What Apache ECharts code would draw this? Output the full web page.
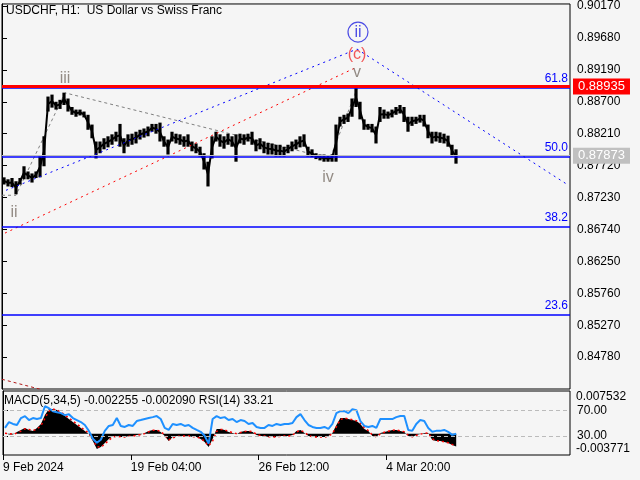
<!DOCTYPE html>
<html><head><meta charset="utf-8">
<script src="https://cdn.jsdelivr.net/npm/echarts@6/dist/echarts.min.js"></script>
<style>html,body{margin:0;padding:0;background:#f5f5f5}#c{width:640px;height:480px}</style>
</head><body><div id="c"></div>
<script>
// ---------- DATA ----------
const chartTitle = 'USDCHF, H1:  US Dollar vs Swiss Franc';
const indicatorTitle = 'MACD(5,34,5) -0.002255 -0.002090 RSI(14) 33.21';
const priceTicks = [0.84780,0.85270,0.85760,0.86250,0.86740,0.87230,0.87720,0.88210,0.88700,0.89190,0.89680,0.90170];
const timeTickBars = [0,128,256,384];
const timeTickLabels = ['9 Feb 2024','19 Feb 04:00','26 Feb 12:00','4 Mar 20:00'];
const sampleStart = 2, sampleStep = 4;   // bar index of first sample, bars per sample
const priceHigh = [
 0.8754,0.8751,0.8753,0.8748,0.8753,0.8771,0.8763,0.8760,0.8763,0.8786,
 0.8817,0.8878,0.8881,0.8870,0.8873,0.8884,0.8875,0.8862,0.8858,0.8858,
 0.8855,0.8850,0.8835,0.8809,0.8809,0.8814,0.8817,0.8820,0.8824,0.8836,
 0.8814,0.8820,0.8821,0.8824,0.8827,0.8829,0.8832,0.8836,0.8836,0.8838,
 0.8817,0.8812,0.8824,0.8821,0.8820,0.8817,0.8820,0.8809,0.8806,0.8801,
 0.8791,0.8778,0.8817,0.8824,0.8820,0.8817,0.8821,0.8817,0.8820,0.8821,
 0.8820,0.8821,0.8824,0.8812,0.8814,0.8809,0.8807,0.8806,0.8804,0.8804,
 0.8801,0.8804,0.8809,0.8812,0.8817,0.8820,0.8801,0.8797,0.8791,0.8789,
 0.8789,0.8788,0.8789,0.8835,0.8847,0.8850,0.8852,0.8875,0.8891,0.8870,
 0.8843,0.8836,0.8836,0.8832,0.8862,0.8858,0.8855,0.8858,0.8862,0.8865,
 0.8862,0.8847,0.8847,0.8847,0.8850,0.8850,0.8835,0.8824,0.8824,0.8823,
 0.8821,0.8818,0.8804,0.8797];
const priceLow = [
 0.8743,0.8740,0.8739,0.8728,0.8743,0.8751,0.8751,0.8746,0.8753,0.8754,
 0.8771,0.8855,0.8861,0.8858,0.8859,0.8865,0.8855,0.8850,0.8847,0.8849,
 0.8846,0.8827,0.8814,0.8783,0.8791,0.8797,0.8800,0.8804,0.8809,0.8801,
 0.8791,0.8801,0.8804,0.8806,0.8812,0.8815,0.8817,0.8824,0.8821,0.8809,
 0.8801,0.8789,0.8809,0.8806,0.8804,0.8801,0.8801,0.8794,0.8791,0.8786,
 0.8766,0.8740,0.8783,0.8809,0.8801,0.8798,0.8804,0.8801,0.8778,0.8806,
 0.8804,0.8809,0.8804,0.8794,0.8797,0.8791,0.8789,0.8789,0.8786,0.8786,
 0.8786,0.8791,0.8794,0.8797,0.8800,0.8801,0.8786,0.8785,0.8782,0.8780,
 0.8778,0.8778,0.8778,0.8778,0.8832,0.8836,0.8839,0.8847,0.8862,0.8843,
 0.8827,0.8827,0.8823,0.8806,0.8839,0.8844,0.8844,0.8846,0.8850,0.8852,
 0.8839,0.8824,0.8833,0.8836,0.8838,0.8832,0.8814,0.8806,0.8809,0.8807,
 0.8806,0.8801,0.8786,0.8775];
const rsiValues = [
 42.3,51.5,48.5,46.9,57.7,60.8,54.6,57.7,56.2,57.7,
 76.2,73.1,68.5,66.9,65.4,62.3,63.8,57.7,54.6,51.5,
 46.9,37.7,25.4,19.2,23.8,37.7,45.4,46.9,57.7,45.4,
 43.8,46.9,45.4,53.1,54.6,56.2,57.7,59.2,60.8,56.2,
 42.3,39.2,48.5,46.9,48.5,45.4,46.9,42.3,39.2,36.2,
 30.0,17.7,56.2,60.8,57.7,59.2,54.6,56.2,51.5,54.6,
 53.1,48.5,50.0,43.8,42.3,42.3,46.9,45.4,48.5,46.9,
 48.5,48.5,50.0,59.2,63.8,54.6,46.9,43.8,42.3,42.3,
 43.8,40.8,48.5,65.4,68.5,68.5,65.4,71.5,70.0,53.1,
 45.4,43.8,45.4,42.3,56.2,56.2,56.2,56.2,59.2,60.8,
 60.8,39.2,37.7,48.5,54.6,53.1,42.3,36.2,37.7,37.7,
 39.2,36.2,31.5,33.2];
const macdMain = [
 0.00011,-0.00015,-0.00015,0.00029,0.00064,0.00100,0.00064,0.00047,0.00100,0.00170,
 0.00329,0.00435,0.00435,0.00418,0.00365,0.00312,0.00259,0.00206,0.00153,0.00100,
 0.00047,-0.00006,-0.00130,-0.00271,-0.00236,-0.00165,-0.00095,-0.00042,-0.00042,-0.00059,
 -0.00059,-0.00042,-0.00042,-0.00024,-0.00015,0.00011,0.00047,0.00064,0.00064,0.00029,
 -0.00042,-0.00130,-0.00059,-0.00042,-0.00042,-0.00042,-0.00042,-0.00059,-0.00059,-0.00095,
 -0.00148,-0.00236,-0.00095,0.00082,0.00082,0.00064,0.00029,0.00011,-0.00006,0.00029,
 0.00047,0.00047,0.00029,-0.00024,-0.00042,-0.00042,-0.00059,-0.00059,-0.00059,-0.00042,
 -0.00042,-0.00042,-0.00024,0.00047,0.00064,0.00011,-0.00042,-0.00059,-0.00059,-0.00059,
 -0.00059,-0.00042,0.00011,0.00153,0.00276,0.00276,0.00259,0.00241,0.00223,0.00170,
 0.00082,0.00047,-0.00042,-0.00059,0.00011,0.00029,0.00047,0.00064,0.00064,0.00047,
 0.00029,-0.00042,-0.00059,-0.00024,-0.00006,0.00011,0.00011,-0.00112,-0.00130,-0.00130,
 -0.00148,-0.00165,-0.00200,-0.00226];
const macdSignal = [
 0.00005,0.00000,-0.00010,0.00010,0.00045,0.00085,0.00075,0.00055,0.00080,0.00140,
 0.00270,0.00400,0.00430,0.00420,0.00380,0.00330,0.00275,0.00220,0.00170,0.00115,
 0.00060,0.00010,-0.00100,-0.00230,-0.00240,-0.00185,-0.00115,-0.00060,-0.00045,-0.00055,
 -0.00058,-0.00047,-0.00043,-0.00030,-0.00018,0.00000,0.00035,0.00058,0.00063,0.00040,
 -0.00025,-0.00110,-0.00075,-0.00048,-0.00043,-0.00042,-0.00042,-0.00055,-0.00058,-0.00085,
 -0.00135,-0.00215,-0.00130,0.00040,0.00075,0.00068,0.00040,0.00018,0.00000,0.00020,
 0.00040,0.00046,0.00033,-0.00010,-0.00035,-0.00042,-0.00055,-0.00059,-0.00059,-0.00046,
 -0.00042,-0.00042,-0.00028,0.00030,0.00060,0.00025,-0.00030,-0.00055,-0.00059,-0.00059,
 -0.00059,-0.00046,0.00000,0.00120,0.00250,0.00275,0.00262,0.00245,0.00228,0.00180,
 0.00100,0.00055,-0.00025,-0.00055,-0.00005,0.00025,0.00043,0.00060,0.00064,0.00050,
 0.00033,-0.00030,-0.00055,-0.00030,-0.00010,0.00008,0.00011,-0.00090,-0.00125,-0.00130,
 -0.00145,-0.00160,-0.00190,-0.00209];
const fibLevels = ['61.8','50.0','38.2','23.6'];
const fibPrices = [0.88914,0.87855,0.86776,0.85432];
const resistancePrice = 0.88935;
const currentPrice = 0.87873;
const rsiLevels = [30,70];
const macdMin = -0.003771, macdMax = 0.007532;
const priceMin = 0.84291, priceMax = 0.90201;
const barMax = 568;
const blueUpLine = [[4,0.87341],[355,0.89509]];
const blueDownLine = [[355,0.89509],[565,0.87433]];
const redUpLine = [[3,0.86684],[353,0.89219]];
const darkRedLine = [[0,0.84440],[40,0.84280]];
const greyWaveLine = [[0,0.87265],[14,0.87265],[63,0.88837],[328,0.87830],[355,0.88898]];
const waveLabels = [
  {name:'iii', bar:63, price:0.89051},
  {name:'ii', bar:12, price:0.87005},
  {name:'iv', bar:326, price:0.87539},
  {name:'v', bar:355, price:0.89143}
];
const cLabel = {name:'(c)', bar:355, price:0.89418};
const circledLabel = {name:'ii', bar:356, price:0.89769};

// ---------- CHART ----------
const FONT = '"Liberation Sans", Arial, sans-serif';
const bars = priceHigh.map((_, i) => sampleStart + i * sampleStep);
const rangeData = bars.map((b, i) => [b, priceLow[i], priceHigh[i]]);
const midData = bars.map((b, i) => [b, (priceLow[i] + priceHigh[i]) / 2]);
const pair = arr => bars.map((b, i) => [b, arr[i]]);

const chart = echarts.init(document.getElementById('c'), null, {renderer: 'canvas'});
const txt = (c, s) => ({color: c, fontSize: s || 12, fontFamily: FONT});

const option = {
  animation: false,
  backgroundColor: '#f5f5f5',
  title: [
    {text: chartTitle, left: 6, top: 5, padding: 0, textStyle: Object.assign(txt('#000', 12), {fontWeight: 'normal'})},
    {text: indicatorTitle, left: 4, top: 395, padding: 0, textStyle: Object.assign(txt('#000', 12), {fontWeight: 'normal'})}
  ],
  grid: [
    {left: 2, top: 2, width: 568, height: 387, show: true, backgroundColor: '#f5f5f5', borderColor: '#000', borderWidth: 1},
    {left: 2, top: 391, width: 568, height: 64, show: true, backgroundColor: '#f5f5f5', borderColor: '#000', borderWidth: 1}
  ],
  xAxis: [
    {gridIndex: 0, type: 'value', min: 0, max: barMax, show: false},
    {gridIndex: 1, type: 'value', min: 0, max: barMax,
     axisLine: {show: false}, splitLine: {show: false},
     axisTick: {show: true, customValues: timeTickBars, length: 5, lineStyle: {color: '#000'}},
     axisLabel: Object.assign({customValues: timeTickBars, align: 'left', margin: 7,
       formatter: v => timeTickLabels[timeTickBars.indexOf(v)]}, txt('#000'))}
  ],
  yAxis: [
    {gridIndex: 0, type: 'value', position: 'right', min: priceMin, max: priceMax,
     axisLine: {show: true, lineStyle: {color: '#000'}}, splitLine: {show: false},
     axisTick: {show: true, customValues: priceTicks, length: 5, lineStyle: {color: '#000'}},
     axisLabel: Object.assign({customValues: priceTicks, margin: 7, formatter: v => v.toFixed(5)}, txt('#000'))},
    {gridIndex: 1, type: 'value', position: 'right', min: 0, max: 100,
     axisLine: {show: true, lineStyle: {color: '#000'}}, splitLine: {show: false},
     axisTick: {show: true, customValues: rsiLevels, length: 5, lineStyle: {color: '#000'}},
     axisLabel: Object.assign({customValues: rsiLevels, margin: 7, formatter: v => v.toFixed(2)}, txt('#000'))},
    {gridIndex: 1, type: 'value', position: 'right', offset: 0, min: macdMin, max: macdMax,
     axisLine: {show: false}, splitLine: {show: false}, axisTick: {show: false},
     axisLabel: Object.assign({customValues: [macdMin, macdMax], margin: 6,
       verticalAlignMinLabel: 'bottom', verticalAlignMaxLabel: 'top',
       formatter: v => v.toFixed(6)}, txt('#000'))}
  ],
  series: [
    {type: 'line', name: 'greyWave', xAxisIndex: 0, yAxisIndex: 0, data: greyWaveLine, symbol: 'none',
     lineStyle: {color: '#808080', width: 1, type: [3, 3]}, z: 2,
     markLine: {symbol: 'none', silent: true, animation: false, precision: 6,
       data: [
         ...fibPrices.map((p, i) => ({yAxis: p, lineStyle: {color: '#0000ff', width: 1.5, type: 'solid'},
             label: Object.assign({show: true, position: 'insideEndTop', distance: [2, 3], formatter: fibLevels[i]}, txt('#0000ff'))})),
         {yAxis: resistancePrice, lineStyle: {color: '#ff0000', width: 3, type: 'solid'},
          label: Object.assign({show: true, position: 'end', distance: 3, formatter: resistancePrice.toFixed(5),
             backgroundColor: '#ff0000', padding: [2, 5, 1, 5]}, txt('#ffffff', 13))},
         {yAxis: currentPrice, lineStyle: {color: '#c0c0c0', width: 1, type: 'solid'},
          label: Object.assign({show: true, position: 'end', distance: 3, formatter: currentPrice.toFixed(5),
             backgroundColor: '#c0c0c0', padding: [2, 5, 1, 5]}, txt('#ffffff', 13))}
       ]}},
    {type: 'custom', name: 'price', xAxisIndex: 0, yAxisIndex: 0, data: rangeData, z: 3, clip: true,
     renderItem: (params, api) => {
       const b = api.value(0);
       const lo = api.coord([b, api.value(1)]);
       const hi = api.coord([b, api.value(2)]);
       const w = api.size([sampleStep, 0])[0];
       return {type: 'rect', shape: {x: lo[0] - w * 0.4, y: hi[1], width: w * 0.8, height: Math.max(2, lo[1] - hi[1])},
               style: {fill: '#000'}};
     }},
    {type: 'line', name: 'priceMid', xAxisIndex: 0, yAxisIndex: 0, data: midData, symbol: 'none', z: 3,
     lineStyle: {color: '#000', width: 2}},
    {type: 'line', xAxisIndex: 0, yAxisIndex: 0, data: blueUpLine, symbol: 'none', z: 4,
     lineStyle: {color: '#0000ff', width: 1, type: [2, 4]}},
    {type: 'line', xAxisIndex: 0, yAxisIndex: 0, data: blueDownLine, symbol: 'none', z: 4,
     lineStyle: {color: '#0000ff', width: 1, type: [2, 4]}},
    {type: 'line', xAxisIndex: 0, yAxisIndex: 0, data: redUpLine, symbol: 'none', z: 4,
     lineStyle: {color: '#ff0000', width: 1, type: [2, 4]}},
    {type: 'line', xAxisIndex: 0, yAxisIndex: 0, data: darkRedLine, symbol: 'none', z: 4,
     lineStyle: {color: '#b01818', width: 1, type: [3, 3]}},
    {type: 'scatter', xAxisIndex: 0, yAxisIndex: 0, symbolSize: 1, z: 6,
     itemStyle: {color: 'rgba(0,0,0,0)'},
     data: waveLabels.map(w => ({name: w.name, value: [w.bar, w.price]})),
     label: Object.assign({show: true, position: 'inside', formatter: '{b}'}, txt('#7a7068', 16))},
    {type: 'scatter', xAxisIndex: 0, yAxisIndex: 0, symbolSize: 1, z: 6,
     itemStyle: {color: 'rgba(0,0,0,0)'},
     data: [{name: cLabel.name, value: [cLabel.bar, cLabel.price]}],
     label: Object.assign({show: true, position: 'inside', formatter: '{b}'}, txt('#f03030', 16))},
    {type: 'scatter', xAxisIndex: 0, yAxisIndex: 0, symbol: 'circle', symbolSize: 20, z: 6,
     itemStyle: {color: 'rgba(0,0,0,0)', borderColor: '#2020e0', borderWidth: 1.2},
     data: [{name: circledLabel.name, value: [circledLabel.bar, circledLabel.price]}],
     label: Object.assign({show: true, position: 'inside', formatter: '{b}'}, txt('#2020e0', 16))},
    // indicator window
    {type: 'line', name: 'MACD', xAxisIndex: 1, yAxisIndex: 2, data: pair(macdMain), symbol: 'none', z: 2,
     lineStyle: {width: 0}, areaStyle: {color: '#000', opacity: 1}},
    {type: 'line', name: 'Signal', xAxisIndex: 1, yAxisIndex: 2, data: pair(macdSignal), symbol: 'none', z: 3,
     lineStyle: {color: '#ff0000', width: 1.5, type: [2, 3]}},
    {type: 'line', name: 'RSI', xAxisIndex: 1, yAxisIndex: 1, data: pair(rsiValues), symbol: 'none', z: 4,
     lineStyle: {color: '#1e90ff', width: 2},
     markLine: {symbol: 'none', silent: true, label: {show: false}, precision: 2,
       lineStyle: {color: '#bbbbbb', width: 1, type: [4, 3]},
       data: rsiLevels.map(v => ({yAxis: v}))}}
  ]
};
chart.setOption(option);
</script>
</body></html>
